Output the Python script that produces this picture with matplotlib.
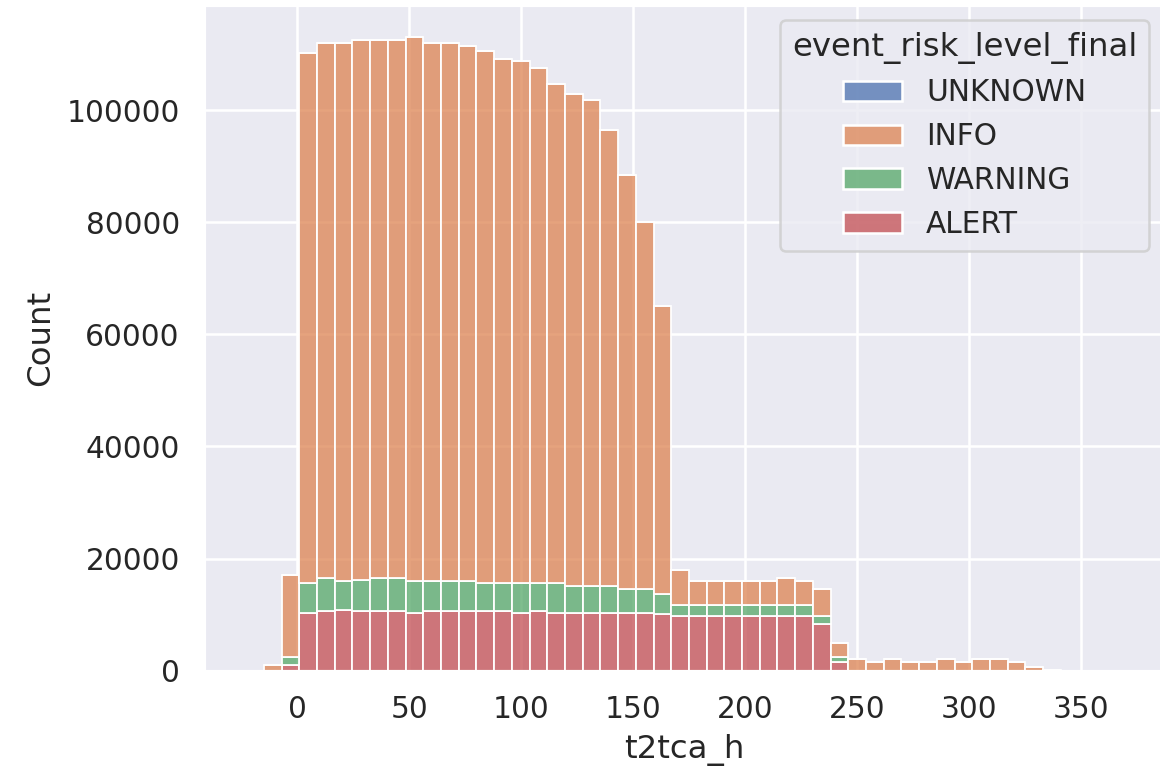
import numpy as np
import pandas as pd
import matplotlib
matplotlib.use("Agg")
import matplotlib.pyplot as plt
import seaborn as sns

# bin edges of t2tca_h (49 bins)
bin_edges = list(np.linspace(-22.8, 364.6, 50))

levels = ['UNKNOWN', 'INFO', 'WARNING', 'ALERT']

# counts per bin
info_counts = [0, 1000, 14600, 94600, 95500, 96000, 96400, 96000, 96000, 97100,
               96000, 96000, 95450, 94950, 93550, 93150, 92000, 89150, 87750, 86750,
               81400, 73850, 65600, 51350, 6350, 4350, 4350, 4350, 4350, 4350,
               4800, 4350, 4800, 2400, 2050, 1550, 2050, 1550, 1550, 2050,
               1550, 2050, 2050, 1550, 650, 200, 0, 0, 10]
warning_counts = [0, 0, 1400, 5300, 5800, 5200, 5400, 5800, 5800, 5700,
                  5300, 5300, 5350, 4900, 4900, 5350, 4900, 5350, 4850, 4850,
                  4850, 4250, 4250, 3500, 1900, 1900, 1900, 1900, 1900, 1900,
                  1900, 1900, 1500, 1000, 0, 0, 0, 0, 0, 0,
                  0, 0, 0, 0, 0, 0, 0, 0, 0]
alert_counts = [0, 0, 1000, 10300, 10700, 10800, 10700, 10700, 10700, 10300,
                10700, 10700, 10700, 10700, 10700, 10250, 10700, 10250, 10250, 10250,
                10250, 10250, 10250, 10150, 9800, 9800, 9800, 9800, 9800, 9800,
                9800, 9800, 8300, 1500, 0, 0, 0, 0, 0, 0,
                0, 0, 0, 0, 0, 0, 0, 0, 0]
unknown_counts = [0] * 49

edges = np.array(bin_edges)
centers = (edges[:-1] + edges[1:]) / 2
frames = []
for lvl, cnt in zip(levels, [unknown_counts, info_counts, warning_counts, alert_counts]):
    frames.append(pd.DataFrame({'t2tca_h': centers, 'w': cnt, 'event_risk_level_final': lvl}))
df = pd.concat(frames, ignore_index=True)

sns.set_theme(font_scale=1.06)

dpi = 183
fig = plt.figure(figsize=(1160 / dpi, 774 / dpi), dpi=dpi)
ax = fig.add_axes([204 / 1160, 103.3 / 774, 960 / 1160, 665.7 / 774])

sns.histplot(data=df, x='t2tca_h', weights='w', hue='event_risk_level_final',
             hue_order=levels, bins=bin_edges, multiple='stack', ax=ax)

ax.set_xlim(-41.6, 386.9)
ax.set_xticks([0, 50, 100, 150, 200, 250, 300, 350])

fig.savefig('out.png', dpi=dpi)
